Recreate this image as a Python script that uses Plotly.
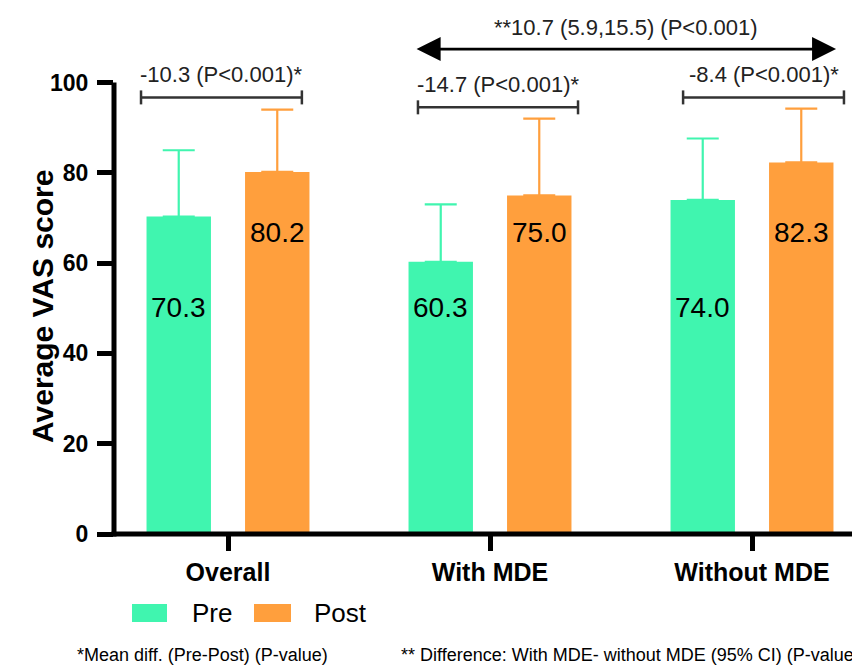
import plotly.graph_objects as go

# ---------------- data ----------------
categories = ["Overall", "With MDE", "Without MDE"]
series_names = ["Pre", "Post"]
pre_mean = [70.3, 60.3, 74.0]
post_mean = [80.2, 75.0, 82.3]
pre_sd = [14.7, 12.7, 13.6]
post_sd = [13.8, 17.0, 11.9]
y_ticks = [0, 20, 40, 60, 80, 100]
comparison_labels = ["-10.3 (P<0.001)*", "-14.7 (P<0.001)*", "-8.4 (P<0.001)*"]
between_label = "**10.7 (5.9,15.5) (P<0.001)"
footnotes = ["*Mean diff. (Pre-Post) (P-value)",
             "** Difference: With MDE- without MDE (95% CI) (P-value)"]
y_title = "Average VAS score"

# ---------------- style / layout constants ----------------
OFF = 8                      # page body margin offset
W, H = 860 - OFF, 666 - OFF
ML, MR, MT, MB = 114 - OFF, 0, 10 - OFF, 132
PLOT_W = W - ML - MR
PLOT_H = H - MT - MB
PX_PER_UNIT = 4.515
Y_MAX = PLOT_H / PX_PER_UNIT
CAT_PX = 262.0
X_START = -(228 - OFF - ML) / CAT_PX
X_END = X_START + PLOT_W / CAT_PX

GREEN = "#40F5AF"
ORANGE = "#FF9F3D"
FONT = "Liberation Sans, Arial, sans-serif"
BAR_OFFSET = 0.188
LABEL_Y = [50.2, 66.8]           # fixed label heights for pre / post
BRACKET_SPANS = [(-0.332, 0.282), (-0.275, 0.336), (-0.263, 0.351)]
BRACKET_Y = [96.7, 94.5, 96.7]
BRACKET_TEXT_DY = 5.1
BRACKET_TICK = 1.55
ARROW_X = (0.714, 2.321)
ARROW_Y = 107.4
ARROW_TEXT_Y = 112.2
ARROW_TEXT_X = 1.52


def px_x(px):
    """reference-picture x pixel -> paper fraction"""
    return (px - OFF - ML) / PLOT_W


def px_y(py):
    """reference-picture y pixel -> paper fraction"""
    return (H - MB - (py - OFF)) / PLOT_H


fig = go.Figure()
for name, means, sds, color in [(series_names[0], pre_mean, pre_sd, GREEN),
                                (series_names[1], post_mean, post_sd, ORANGE)]:
    fig.add_trace(go.Bar(
        x=categories, y=means, name=name, marker=dict(color=color, line=dict(width=0)),
        error_y=dict(type="data", array=sds, arrayminus=[0] * len(sds), symmetric=False,
                     color=color, thickness=2.2, width=16),
        showlegend=False,
    ))

shapes = []
annotations = []

# bar value labels
for i in range(len(categories)):
    for j, (means, off) in enumerate([(pre_mean, -BAR_OFFSET), (post_mean, BAR_OFFSET)]):
        annotations.append(dict(x=i + off, y=LABEL_Y[j], xref="x", yref="y",
                                text=f"{means[i]:.1f}", showarrow=False,
                                font=dict(family=FONT, size=28, color="black")))

# within-group brackets
for i, lab in enumerate(comparison_labels):
    x0, x1 = i + BRACKET_SPANS[i][0], i + BRACKET_SPANS[i][1]
    yb = BRACKET_Y[i]
    lc = dict(color="#333333", width=2.5)
    shapes.append(dict(type="line", xref="x", yref="y", x0=x0, x1=x1, y0=yb, y1=yb, line=lc))
    for xe in (x0, x1):
        shapes.append(dict(type="line", xref="x", yref="y", x0=xe, x1=xe,
                           y0=yb - BRACKET_TICK, y1=yb + BRACKET_TICK, line=lc))
    annotations.append(dict(x=(x0 + x1) / 2, y=yb + BRACKET_TEXT_DY, xref="x", yref="y",
                            text=lab, showarrow=False, yanchor="middle",
                            font=dict(family=FONT, size=22, color="#222222")))

# between-group double arrow
annotations.append(dict(x=ARROW_X[1], y=ARROW_Y, ax=ARROW_X[0], ay=ARROW_Y,
                        xref="x", yref="y", axref="x", ayref="y", text="",
                        showarrow=True, arrowhead=2, startarrowhead=2, arrowside="end+start",
                        arrowsize=1.85, startarrowsize=1.85, arrowwidth=2.6, arrowcolor="black",
                        standoff=0, startstandoff=0))
annotations.append(dict(x=ARROW_TEXT_X, y=ARROW_TEXT_Y, xref="x", yref="y",
                        text=between_label, showarrow=False, yanchor="middle",
                        font=dict(family=FONT, size=22, color="#222222")))

# axis lines
shapes.append(dict(type="line", xref="paper", yref="paper", x0=0, x1=0,
                   y0=-2.5 / PLOT_H, y1=100 / Y_MAX, line=dict(color="black", width=5)))
shapes.append(dict(type="line", xref="paper", yref="paper", x0=-2.5 / PLOT_W, x1=1,
                   y0=0, y1=0, line=dict(color="black", width=5)))

# y title
annotations.append(dict(x=px_x(24), y=px_y(306.5), xref="paper", yref="paper",
                        text=f"<b>{y_title}</b>", textangle=-90, showarrow=False,
                        font=dict(family=FONT, size=30, color="black")))

# custom legend
for (x0, x1, color), name, tx in [((132, 167, GREEN), series_names[0], 190),
                                   ((254, 291, ORANGE), series_names[1], 312)]:
    shapes.append(dict(type="rect", xref="paper", yref="paper", x0=px_x(x0), x1=px_x(x1),
                       y0=px_y(622), y1=px_y(604), fillcolor=color, line=dict(width=0)))
    annotations.append(dict(x=px_x(tx), y=px_y(613), xref="paper", yref="paper",
                            text=name, showarrow=False, xanchor="left", yanchor="middle",
                            font=dict(family=FONT, size=26, color="black")))

# footnotes
for txt, fx in zip(footnotes, (75, 399)):
    annotations.append(dict(x=px_x(fx), y=px_y(655), xref="paper", yref="paper",
                            text=txt, showarrow=False, xanchor="left", yanchor="middle",
                            font=dict(family=FONT, size=18, color="black")))

fig.update_layout(
    width=W, height=H, margin=dict(l=ML, r=MR, t=MT, b=MB, autoexpand=False),
    paper_bgcolor="white", plot_bgcolor="white",
    barmode="group", bargap=0.248, bargroupgap=0.346,
    shapes=shapes, annotations=annotations,
    xaxis=dict(type="category", range=[X_START, X_END], showgrid=False, zeroline=False,
               showline=False, ticks="outside", ticklen=16, tickwidth=5, tickcolor="black",
               tickfont=dict(family=FONT, size=25, color="black"),
               tickvals=categories, ticktext=[f"<b>{c}</b>" for c in categories]),
    yaxis=dict(range=[0, Y_MAX], showgrid=False, zeroline=False, showline=False,
               ticks="outside", ticklen=16, tickwidth=5, tickcolor="black",
               ticklabelstandoff=4,
               tickvals=y_ticks, ticktext=[f"<b>{t}</b>" for t in y_ticks],
               tickfont=dict(family=FONT, size=23, color="black")),
)

fig.write_html("out.html")
